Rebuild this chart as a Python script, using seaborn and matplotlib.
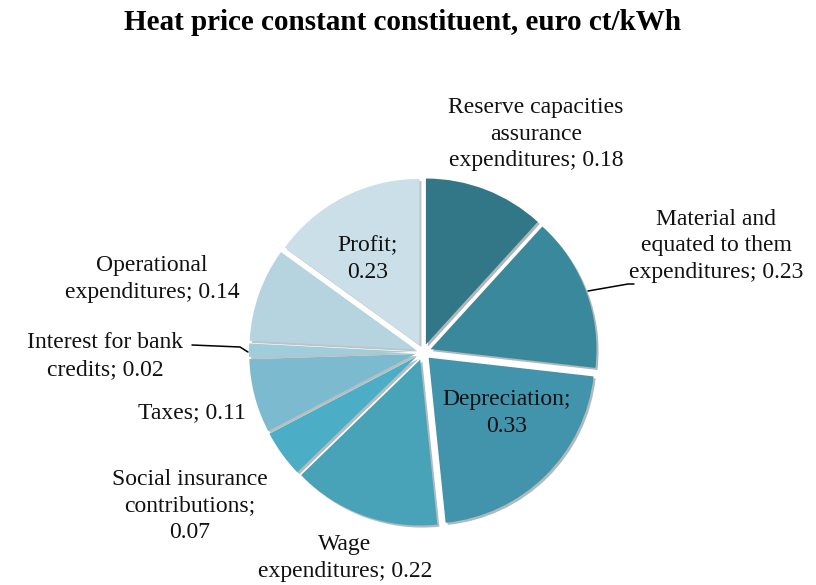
import matplotlib.pyplot as plt
import seaborn as sns

# Data
categories = ['Reserve capacities\nassurance\nexpenditures', 'Material and\nequated to them\nexpenditures',
              'Depreciation', 'Wage\nexpenditures', 'Social insurance\ncontributions',
              'Taxes', 'Interest for bank\ncredits', 'Operational\nexpenditures', 'Profit']
values = [0.18, 0.23, 0.33, 0.22, 0.07, 0.11, 0.02, 0.14, 0.23]
colors = ['#327788', '#3a889c', '#4194ab', '#48a2b8', '#4badc6',
          '#7bbacf', '#9fcddc', '#b6d4e0', '#cbdfe8']

# label text: how the value is joined to the category name
label_texts = [
    'Reserve capacities\nassurance\nexpenditures; 0.18',
    'Material and\nequated to them\nexpenditures; 0.23',
    'Depreciation;\n0.33',
    'Wage\nexpenditures; 0.22',
    'Social insurance\ncontributions;\n0.07',
    'Taxes; 0.11',
    'Interest for bank\ncredits; 0.02',
    'Operational\nexpenditures; 0.14',
    'Profit;\n0.23',
]
# label anchor points in figure pixels (x, y from top)
label_pos = [(536, 134), (716, 246), (507, 413), (345, 558), (190, 506),
             (192, 413), (105, 356), (152, 279), (368, 259)]

sns.set_theme(style='white')
plt.rcParams['font.family'] = ['Liberation Serif', 'DejaVu Serif']

W, H = 816, 585
fig = plt.figure(figsize=(W / 100, H / 100), dpi=100)
ax = fig.add_axes([0, 0, 1, 1])

cx, cy, r = 423, H - 352, 166
ax.pie(values, colors=colors, startangle=90, counterclock=False,
       center=(cx, cy), radius=r, explode=[8] * len(values),
       wedgeprops=dict(linewidth=0), frame=True,
       shadow=dict(ox=1.5, oy=-1.5, shade=0.6, alpha=0.35))
ax.set_xlim(0, W)
ax.set_ylim(0, H)
ax.set_aspect('equal')
ax.axis('off')

for txt, (x, y) in zip(label_texts, label_pos):
    ax.text(x, H - y, txt, ha='center', va='center', fontsize=17,
            color='#111111', linespacing=1.34)

# leader lines
ax.plot([588, 628, 634], [H - 291, H - 284, H - 284], color='black', lw=1.1)
ax.plot([192, 240, 248], [H - 345, H - 347, H - 352], color='black', lw=1.1)

fig.suptitle('Heat price constant constituent, euro ct/kWh', x=0.493, y=1 - 23 / H,
             va='center', fontsize=21, fontweight='bold', color='black')

plt.savefig('out.png', dpi=100)
